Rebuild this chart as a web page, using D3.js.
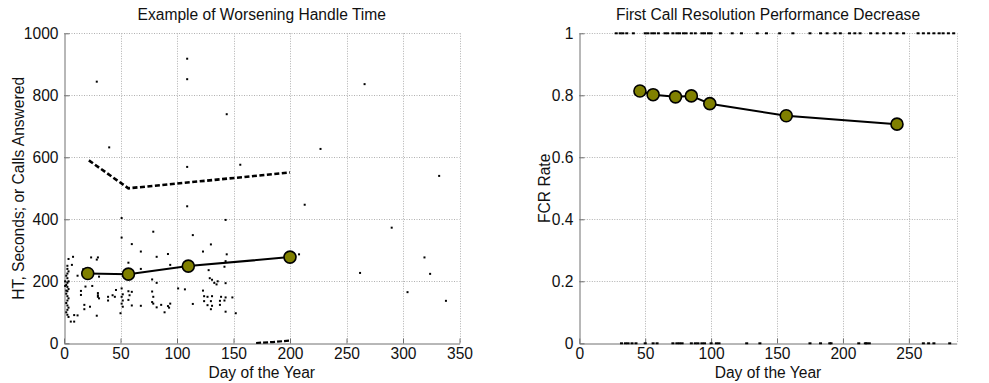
<!DOCTYPE html>
<html><head><meta charset="utf-8">
<script src="https://cdn.jsdelivr.net/npm/d3@7"></script>
<style>
body{margin:0;background:#fff;}
svg{display:block;font-family:"Liberation Sans",Arial,Helvetica,sans-serif;}
</style></head>
<body>
<svg id="c" width="989" height="383"></svg>
<script>
// ---------- Left chart data ----------
const leftTitle = "Example of Worsening Handle Time";
const leftYLabel = "HT, Seconds; or Calls Answered";
const xLabel = "Day of the Year";
const leftXTicks = [0,50,100,150,200,250,300,350];
const leftYTicks = [0,200,400,600,800,1000];
const htDays = [21,57,110,200];
const htValues = [225,223,249,278];
const dashDays = [22,57,200];
const dashValues = [590,500,551];
const lowDays = [170,185,200];
const lowValues = [1,4,9];
const scatterDays = [29,109,109,144,40,109,156,109,51,143,266,227,332,213,290,130,123,144,208,143,142,319,262,324,128,129,131,133,135,136,143,123,124,127,131,139,143,149,124,130,138,142,127,131,138,130,143,152,304,338,
 79,114,68,82,92,94,68,78,82,101,107,78,79,78,79,82,86,92,94,93,89,114,68,
 51,60,8,4,24,29,30,57,7,17,12,31,19,25,15,15,30,30,30,31,18,18,23,46,43,39,39,45,51,52,51,52,51,52,50,57,60,58,57,60,29,9,12,6,9,
 3,3,4,3,2,3,4,3,2,3,4,3,2,3,4,3,2,3,4,3,2,3,4,1,1,2];
const scatterValues = [844,918,852,739,632,569,576,442,404,398,836,627,540,447,373,319,296,287,287,265,247,277,227,224,236,210,205,195,190,200,194,170,152,150,152,150,148,148,136,136,137,138,123,121,124,110,102,97,165,137,
 360,349,296,279,288,253,240,206,195,177,174,167,150,133,128,116,124,120,128,115,100,127,121,
 341,320,279,272,277,270,277,260,253,239,218,215,183,185,169,156,162,155,150,145,124,110,118,172,155,150,138,150,177,158,150,138,128,118,97,168,166,155,140,122,89,91,90,70,70,
 250,240,232,225,218,210,200,195,188,182,175,168,160,152,145,138,130,122,115,108,100,92,85,200,185,170];

// ---------- Right chart data ----------
const rightTitle = "First Call Resolution Performance Decrease";
const rightYLabel = "FCR Rate";
const rightXTicks = [0,50,100,150,200,250];
const rightYTicks = [0,0.2,0.4,0.6,0.8,1];
const fcrDays = [46,56,73,85,99,157,241];
const fcrValues = [0.814,0.802,0.795,0.798,0.773,0.734,0.707];
const resolvedDays = [28,31,33,36,41,50,52,55,57,60,65,67,71,74,76,79,81,85,88,93,95,98,100,107,116,123,135,142,152,162,175,183,188,194,198,205,209,213,221,226,231,236,241,246,257,261,265,269,273,276,280,284];
const unresolvedDays = [32,35,37,40,43,50,56,59,71,74,76,78,85,88,90,93,95,100,104,106,127,137,175,183,190,191,212,217,218,220,261,265,269,281];

const svg = d3.select("#c");
const FS = 15.6;

function panel(o){
  const g = svg.append("g");
  const x = d3.scaleLinear().domain(o.xDomain).range([o.x0,o.x1]);
  const y = d3.scaleLinear().domain(o.yDomain).range([o.y0,o.y1]);
  // grid
  const gridStyle = s => s.attr("stroke","#b0b0b0").attr("stroke-width",1).attr("stroke-dasharray","1,1.5").attr("fill","none");
  g.selectAll(".gx").data(o.xTicks.filter(t=>t!==o.xDomain[0]).concat([o.xDomain[1]]).filter((v,i,a)=>a.indexOf(v)===i)).join("line")
    .attr("x1",d=>Math.round(x(d))+0.5).attr("x2",d=>Math.round(x(d))+0.5).attr("y1",o.y1).attr("y2",o.y0).call(gridStyle);
  g.selectAll(".gy").data(o.yTicks.filter(t=>t!==o.yDomain[0])).join("line")
    .attr("y1",d=>Math.round(y(d))+0.5).attr("y2",d=>Math.round(y(d))+0.5).attr("x1",o.x0).attr("x2",o.x1).call(gridStyle);
  // axes
  const ax = d3.axisBottom(x).tickValues(o.xTicks).tickSizeInner(-5).tickSizeOuter(0).tickPadding(4).tickFormat(o.xFmt||d3.format("d"));
  const ay = d3.axisLeft(y).tickValues(o.yTicks).tickSizeInner(-5).tickSizeOuter(0).tickPadding(6).tickFormat(o.yFmt||d3.format("d"));
  const gx = g.append("g").attr("transform",`translate(0,${Math.round(o.y0)+0.5})`).call(ax);
  const gy = g.append("g").attr("transform",`translate(${Math.round(o.x0)+0.5},0)`).call(ay);
  [gx,gy].forEach(a=>{
    a.select(".domain").attr("stroke","#707070").attr("stroke-width",1);
    a.selectAll(".tick line").attr("stroke","#707070");
    a.selectAll("text").attr("font-size",FS).attr("fill","#111").attr("font-family","Liberation Sans, Arial, sans-serif");
  });
  gx.selectAll("text").attr("dy","0.75em");
  // title and labels
  g.append("text").attr("x",(o.x0+o.x1)/2).attr("y",20).attr("text-anchor","middle").attr("font-size",FS).attr("fill","#111").text(o.title);
  g.append("text").attr("x",(o.x0+o.x1)/2).attr("y",378).attr("text-anchor","middle").attr("font-size",FS).attr("fill","#111").text(o.xLabel);
  g.append("text").attr("transform",`translate(${o.yLabelX},${(o.y0+o.y1)/2}) rotate(-90)`).attr("text-anchor","middle").attr("font-size",FS).attr("fill","#111").text(o.yLabel);
  return {g,x,y};
}

// Left panel
const L = panel({x0:64,x1:459.5,y0:343.3,y1:33.3,xDomain:[0,350],yDomain:[0,1000],xTicks:leftXTicks,yTicks:leftYTicks,
  title:leftTitle,xLabel:xLabel,yLabel:leftYLabel,yLabelX:24});
L.g.append("g").selectAll("rect").data(scatterDays.map((d,i)=>[d,scatterValues[i]])).join("rect")
  .attr("x",d=>L.x(d[0])-1).attr("y",d=>L.y(d[1])-1).attr("width",2).attr("height",2).attr("fill","#000");
const lineL = d3.line().x(d=>L.x(d[0])).y(d=>L.y(d[1]));
L.g.append("path").datum(dashDays.map((d,i)=>[d,dashValues[i]])).attr("d",lineL).attr("fill","none").attr("stroke","#000").attr("stroke-width",2.6).attr("stroke-dasharray","5,2.5");
L.g.append("path").datum(lowDays.map((d,i)=>[d,lowValues[i]])).attr("d",lineL).attr("fill","none").attr("stroke","#000").attr("stroke-width",2.2).attr("stroke-dasharray","5,2");
L.g.append("path").datum(htDays.map((d,i)=>[d,htValues[i]])).attr("d",lineL).attr("fill","none").attr("stroke","#000").attr("stroke-width",2);
L.g.append("g").selectAll("circle").data(htDays.map((d,i)=>[d,htValues[i]])).join("circle")
  .attr("cx",d=>L.x(d[0])).attr("cy",d=>L.y(d[1])).attr("r",6).attr("fill","#808000").attr("stroke","#000").attr("stroke-width",1.6);

// Right panel
const R = panel({x0:579.3,x1:956.7,y0:343.3,y1:33.3,xDomain:[0,286.3],yDomain:[0,1],xTicks:rightXTicks,yTicks:rightYTicks,
  title:rightTitle,xLabel:xLabel,yLabel:rightYLabel,yLabelX:550,yFmt:d=>d===0||d===1?d3.format("d")(d):d3.format(".1f")(d)});
R.g.append("g").selectAll("rect.t").data(resolvedDays).join("rect")
  .attr("x",d=>R.x(d)-1.5).attr("y",R.y(1)-1).attr("width",3).attr("height",2).attr("fill","#000");
R.g.append("g").selectAll("rect.b").data(unresolvedDays).join("rect")
  .attr("x",d=>R.x(d)-1.5).attr("y",R.y(0)-1).attr("width",3).attr("height",2).attr("fill","#000");
const lineR = d3.line().x(d=>R.x(d[0])).y(d=>R.y(d[1]));
R.g.append("path").datum(fcrDays.map((d,i)=>[d,fcrValues[i]])).attr("d",lineR).attr("fill","none").attr("stroke","#000").attr("stroke-width",2);
R.g.append("g").selectAll("circle").data(fcrDays.map((d,i)=>[d,fcrValues[i]])).join("circle")
  .attr("cx",d=>R.x(d[0])).attr("cy",d=>R.y(d[1])).attr("r",6).attr("fill","#808000").attr("stroke","#000").attr("stroke-width",1.6);
</script>
</body></html>
